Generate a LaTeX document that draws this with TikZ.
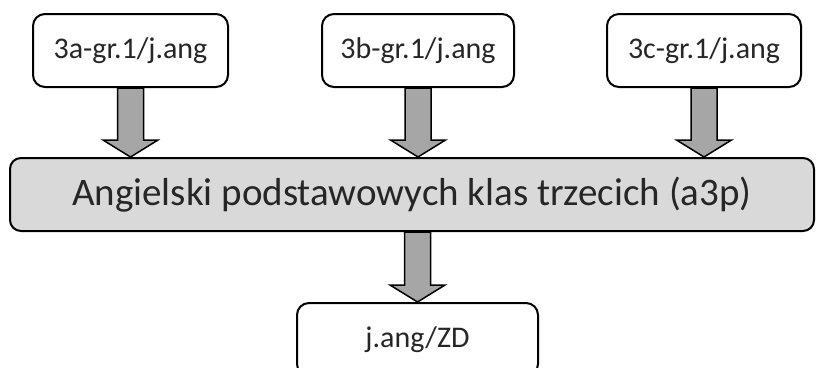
\documentclass[tikz,border=0pt]{standalone}
\usepackage{fontspec}
\setmainfont{Carlito}
\definecolor{boxgray}{HTML}{D9D9D9}
\definecolor{arrowgray}{HTML}{A6A6A6}
\definecolor{txt}{HTML}{262626}
\tikzset{
	groupbox/.style={draw, line width=2pt, rounded corners=12pt, fill=white, text=txt,
		minimum width=195pt, minimum height=73pt, font=\fontsize{30}{35}\selectfont},
	mainbox/.style={draw, line width=2pt, rounded corners=11pt, fill=boxgray, text=txt,
		minimum width=804pt, minimum height=73pt, font=\fontsize{39}{45}\selectfont},
	fatarrow/.style={draw, line width=1.5pt, fill=arrowgray, line join=miter}
}
\newcommand{\fatarrow}[2]{%
	\draw[fatarrow] ([xshift=-13pt]#1) -- ([xshift=-13pt,yshift=17pt]#2)
		-- ([xshift=-27.5pt,yshift=17pt]#2) -- (#2)
		-- ([xshift=27.5pt,yshift=17pt]#2) -- ([xshift=13pt,yshift=17pt]#2)
		-- ([xshift=13pt]#1) -- cycle;}
\begin{document}
\begin{tikzpicture}[x=1pt,y=-1pt]
	\useasboundingbox (0,0) rectangle (816,367);
	\node[groupbox] (ga) at (130.5,50.5) {3a-gr.1/j.ang};
	\node[groupbox, minimum width=192pt] (gb) at (418,50.5) {3b-gr.1/j.ang};
	\node[groupbox, minimum width=194pt] (gc) at (704,50.5) {3c-gr.1/j.ang};
	\node[mainbox] (a3p) at (412,194.5) {Angielski podstawowych klas trzecich (a3p)};
	\node[groupbox, minimum width=241pt] (zd) at (417.5,339.5) {j.ang/ZD};
	% tips of the arrows
	\coordinate (ta) at (ga.south |- a3p.north);
	\coordinate (tb) at (gb.south |- a3p.north);
	\coordinate (tc) at (gc.south |- a3p.north);
	\coordinate (sz) at (a3p.south -| zd.north);
	\fatarrow{ga.south}{ta}
	\fatarrow{gb.south}{tb}
	\fatarrow{gc.south}{tc}
	\fatarrow{sz}{zd.north}
\end{tikzpicture}
\end{document}
